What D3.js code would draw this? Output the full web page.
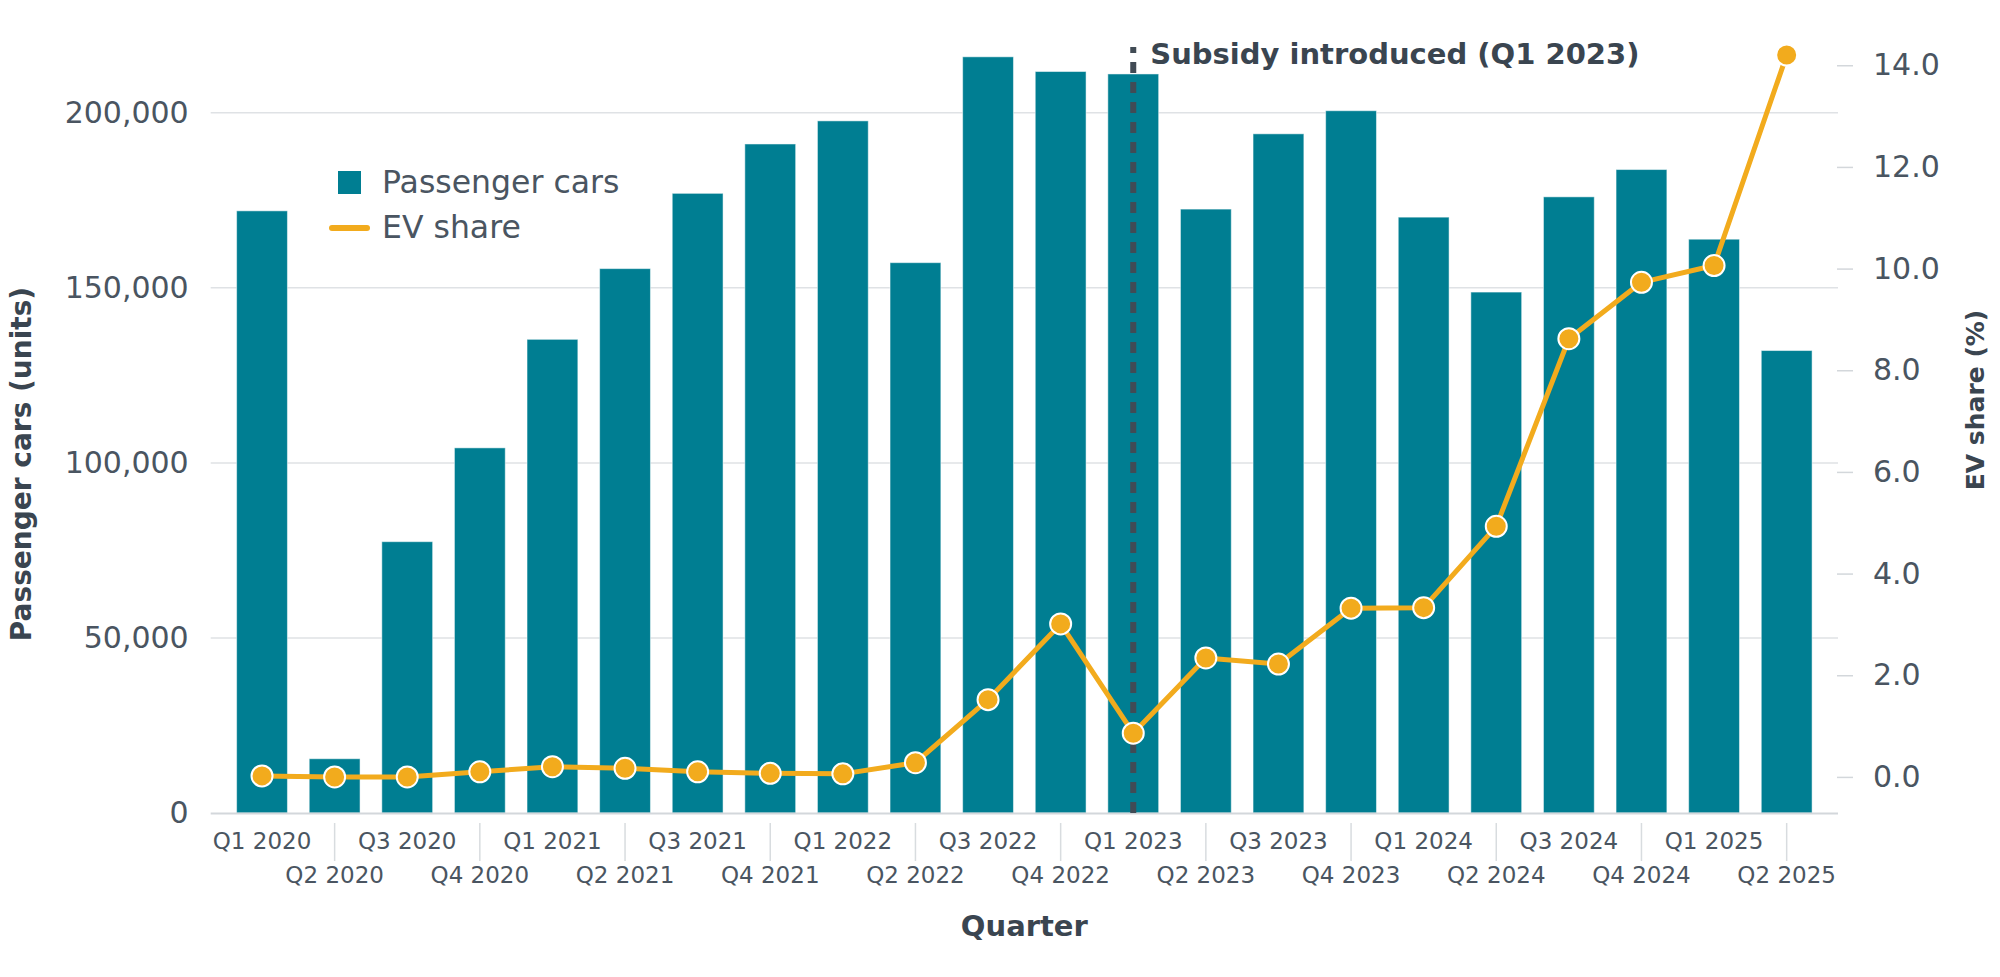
<!DOCTYPE html>
<html>
<head>
<meta charset="utf-8">
<script src="https://cdn.jsdelivr.net/npm/d3@7"></script>
<style>
  body { margin: 0; background: #fff; }
  text { font-family: "DejaVu Sans", sans-serif; }
</style>
</head>
<body>
<svg id="chart" width="2000" height="977"></svg>
<script>
// data
var quarters = ["Q1 2020", "Q2 2020", "Q3 2020", "Q4 2020", "Q1 2021", "Q2 2021", "Q3 2021", "Q4 2021",
  "Q1 2022", "Q2 2022", "Q3 2022", "Q4 2022", "Q1 2023", "Q2 2023", "Q3 2023", "Q4 2023",
  "Q1 2024", "Q2 2024", "Q3 2024", "Q4 2024", "Q1 2025", "Q2 2025"];
var cars = [172000, 15500, 77500, 104300, 135300, 155500, 177000, 191100, 197700, 157200, 216000,
  211800, 211100, 172500, 194000, 200600, 170200, 148800, 176000, 183800, 163900, 132100];
var evShare = [0.02, 0.0, 0.0, 0.10, 0.20, 0.17, 0.10, 0.07, 0.06, 0.28, 1.52, 3.01, 0.86, 2.34,
  2.22, 3.32, 3.33, 4.93, 8.62, 9.73, 10.06, 14.2];
var leftTicks = [0, 50000, 100000, 150000, 200000];
var rightTicks = [0, 2, 4, 6, 8, 10, 12, 14];
var subsidyQuarter = "Q1 2023";

var teal = "#007e92", orange = "#f2ab1d", ink = "#3a4550", tickInk = "#4a5561";

var svg = d3.select("#chart");
// plot box (not "top": that name is taken by window.top)
var pLeft = 210.7, pRight = 1838, pTop = 19, pBottom = 813;

var x = d3.scaleBand().domain(quarters).range([pLeft, pRight]).paddingInner(0.3).paddingOuter(0.357);
var yL = d3.scaleLinear().domain([0, d3.max(cars) * 1.05]).range([pBottom, pTop]);
var evMax = d3.max(evShare);
var yR = d3.scaleLinear().domain([-0.05 * evMax, evMax * 1.05]).range([pBottom, pTop]);
var cx = function(d, i) { return x(quarters[i]) + x.bandwidth() / 2; };

// gridlines
svg.append("g").selectAll("line").data(leftTicks.slice(1)).enter().append("line")
  .attr("x1", pLeft).attr("x2", pRight)
  .attr("y1", function(d) { return yL(d); }).attr("y2", function(d) { return yL(d); })
  .attr("stroke", "#dfe2e5").attr("stroke-width", 1.5);

// bars
svg.append("g").selectAll("rect").data(cars).enter().append("rect")
  .attr("x", function(d, i) { return x(quarters[i]); })
  .attr("y", function(d) { return yL(d); })
  .attr("width", x.bandwidth())
  .attr("height", function(d) { return yL(0) - yL(d); })
  .attr("fill", teal)
  .attr("stroke", "#ffffff").attr("stroke-opacity", 0.5).attr("stroke-width", 1);

// baseline
svg.append("line").attr("x1", pLeft).attr("x2", pRight).attr("y1", pBottom + 0.5).attr("y2", pBottom + 0.5)
  .attr("stroke", "#d3d7db").attr("stroke-width", 2);

// left axis labels
var yAxisL = d3.axisLeft(yL).tickValues(leftTicks).tickSize(0).tickPadding(22).tickFormat(d3.format(","));
var gL = svg.append("g").attr("transform", "translate(" + pLeft + ",0)").call(yAxisL);
gL.select(".domain").remove();
gL.selectAll("text").attr("font-size", 30).attr("fill", tickInk).attr("font-family", "DejaVu Sans");

// right axis
var yAxisR = d3.axisRight(yR).tickValues(rightTicks).tickSize(16).tickPadding(20).tickFormat(d3.format(".1f"));
var gR = svg.append("g").attr("transform", "translate(" + (pRight - 1) + ",0)").call(yAxisR);
gR.select(".domain").remove();
gR.selectAll("line").attr("stroke", "#d3d7db").attr("stroke-width", 1.5);
gR.selectAll("text").attr("font-size", 30).attr("fill", tickInk).attr("font-family", "DejaVu Sans");

// x axis, staggered labels
var gx = svg.append("g");
gx.selectAll("line").data(quarters.filter(function(d, i) { return i % 2 == 1; })).enter().append("line")
  .attr("x1", function(d) { return x(d) + x.bandwidth() / 2; })
  .attr("x2", function(d) { return x(d) + x.bandwidth() / 2; })
  .attr("y1", pBottom + 10).attr("y2", pBottom + 48)
  .attr("stroke", "#d8dcdf").attr("stroke-width", 1.5);
gx.selectAll("text").data(quarters).enter().append("text")
  .attr("x", function(d) { return x(d) + x.bandwidth() / 2; })
  .attr("y", function(d, i) { return i % 2 == 0 ? pBottom + 36 : pBottom + 70; })
  .attr("text-anchor", "middle").attr("font-size", 23).attr("fill", tickInk)
  .text(function(d) { return d; });

// subsidy marker
var sx = x(subsidyQuarter) + x.bandwidth() / 2;
svg.append("line").attr("x1", sx).attr("x2", sx).attr("y1", pBottom).attr("y2", 47)
  .attr("stroke", "#414b55").attr("stroke-width", 6).attr("stroke-dasharray", "11,9");
svg.append("text").attr("x", sx + 17).attr("y", 64)
  .attr("font-size", 29).attr("font-weight", "bold").attr("fill", ink)
  .text("Subsidy introduced (Q1 2023)");

// EV share line
var line = d3.line().x(cx).y(function(d) { return yR(d); });
svg.append("path").datum(evShare).attr("d", line)
  .attr("fill", "none").attr("stroke", orange).attr("stroke-width", 5).attr("stroke-linejoin", "round");
svg.append("g").selectAll("circle").data(evShare).enter().append("circle")
  .attr("cx", cx).attr("cy", function(d) { return yR(d); }).attr("r", 10.5)
  .attr("fill", orange).attr("stroke", "#fff").attr("stroke-width", 2);

// legend
var lg = svg.append("g");
lg.append("rect").attr("x", 338).attr("y", 171).attr("width", 23).attr("height", 23).attr("fill", teal);
lg.append("text").attr("x", 382).attr("y", 193).attr("font-size", 31.5).attr("fill", tickInk).text("Passenger cars");
lg.append("line").attr("x1", 332).attr("x2", 367).attr("y1", 228).attr("y2", 228)
  .attr("stroke", orange).attr("stroke-width", 6).attr("stroke-linecap", "round");
lg.append("text").attr("x", 382).attr("y", 238).attr("font-size", 31.5).attr("fill", tickInk).text("EV share");

// axis titles
svg.append("text").attr("transform", "translate(31,464) rotate(-90)")
  .attr("text-anchor", "middle").attr("font-size", 28).attr("font-weight", "bold").attr("fill", ink)
  .text("Passenger cars (units)");
svg.append("text").attr("transform", "translate(1984,400) rotate(-90)")
  .attr("text-anchor", "middle").attr("font-size", 25).attr("font-weight", "bold").attr("fill", ink)
  .text("EV share (%)");
svg.append("text").attr("x", (pLeft + pRight) / 2).attr("y", 936)
  .attr("text-anchor", "middle").attr("font-size", 29).attr("font-weight", "bold").attr("fill", ink)
  .text("Quarter");
</script>
</body>
</html>
